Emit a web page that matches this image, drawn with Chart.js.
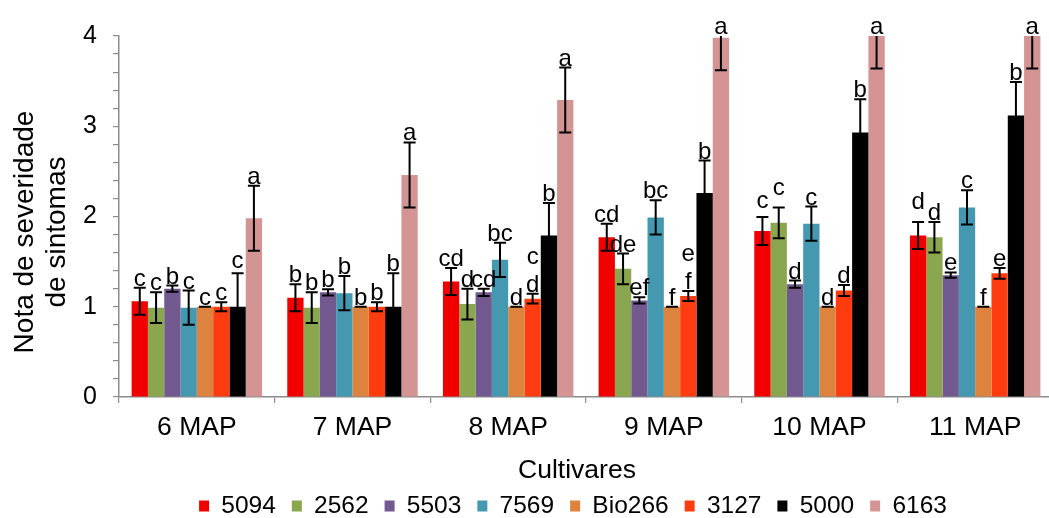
<!DOCTYPE html>
<html>
<head>
<meta charset="utf-8">
<script src="https://cdn.jsdelivr.net/npm/chart.js@4.4.0/dist/chart.umd.min.js"></script>
<style>
html,body{margin:0;padding:0;background:#fff;overflow:hidden;width:1049px;height:518px;}
#wrap{position:relative;width:1056px;height:518px;}
</style>
</head>
<body>
<div id="wrap"><canvas id="c" width="1056" height="518"></canvas></div>
<script>
// ---- data ----
const categories = ['6 MAP', '7 MAP', '8 MAP', '9 MAP', '10 MAP', '11 MAP'];
const cultivars = ['5094', '2562', '5503', '7569', 'Bio266', '3127', '5000', '6163'];

const mean5094   = [1.06, 1.10, 1.28, 1.77, 1.84, 1.79];
const mean2562   = [0.99, 0.99, 1.03, 1.42, 1.93, 1.77];
const mean5503   = [1.20, 1.16, 1.16, 1.07, 1.25, 1.35];
const mean7569   = [0.99, 1.15, 1.52, 1.99, 1.92, 2.10];
const meanBio266 = [1.00, 1.00, 1.00, 1.00, 1.00, 1.00];
const mean3127   = [1.00, 1.00, 1.09, 1.12, 1.18, 1.37];
const mean5000   = [1.00, 1.00, 1.79, 2.26, 2.93, 3.12];
const mean6163   = [1.98, 2.46, 3.29, 3.98, 4.00, 4.00];

const err5094   = [0.15, 0.15, 0.15, 0.15, 0.155, 0.15];
const err2562   = [0.17, 0.17, 0.17, 0.17, 0.17, 0.17];
const err5503   = [0.035, 0.035, 0.04, 0.035, 0.04, 0.03];
const err7569   = [0.19, 0.19, 0.19, 0.19, 0.19, 0.19];
const errBio266 = [0, 0, 0, 0, 0, 0];
const err3127   = [0.05, 0.05, 0.055, 0.055, 0.06, 0.06];
const err5000   = [0.37, 0.37, 0.36, 0.36, 0.37, 0.37];
const err6163   = [0.36, 0.36, 0.36, 0.36, 0.36, 0.36];

const let5094   = ['c', 'b', 'cd', 'cd', 'c', 'd'];
const let2562   = ['c', 'b', 'd', 'de', 'c', 'd'];
const let5503   = ['b', 'b', 'cd', 'ef', 'd', 'e'];
const let7569   = ['c', 'b', 'bc', 'bc', 'c', 'c'];
const letBio266 = ['c', 'b', 'd', 'f', 'd', 'f'];
const let3127   = ['c', 'b', 'c\nd', 'e\nf', 'd', 'e'];
const let5000   = ['c', 'b', 'b', 'b', 'b', 'b'];
const let6163   = ['a', 'a', 'a', 'a', 'a', 'a'];

const yTickValues = [0, 1, 2, 3, 4];
const xTitle = 'Cultivares';
const yTitle = ['Nota de severidade', 'de sintomas'];

// ---- styling ----
const colors = ['#F20000', '#8AA64F', '#725A91', '#4499B0', '#DD833E', '#FF3C10', '#000000', '#D49494'];
const means = [mean5094, mean2562, mean5503, mean7569, meanBio266, mean3127, mean5000, mean6163];
const errs = [err5094, err2562, err5503, err7569, errBio266, err3127, err5000, err6163];
const letters = [let5094, let2562, let5503, let7569, letBio266, let3127, let5000, let6163];
// extra upward shifts (px) for a few letter labels, keyed "dataset,index"
const letterNudge = {'0,4': 7, '1,4': 10, '0,5': 11, '6,0': 3};

const FONT = '"Liberation Sans", Arial, sans-serif';
const AXIS_GRAY = '#8c8c8c';
Chart.defaults.font.family = FONT;
Chart.defaults.color = '#000';

const datasets = cultivars.map((name, i) => ({
  label: name,
  data: means[i],
  backgroundColor: colors[i],
  borderWidth: 0,
  categoryPercentage: 0.838,
  barPercentage: 1.0
}));

const plotArea = {top: 36, bottom: 397, left: 119};
const LEG_PAD = 16, LEG_FONT = 24.5;

const customPlugin = {
  id: 'custom',
  afterLayout(chart) {
    const lg = chart.legend;
    if (!lg) return;
    const cx = 573, w = 1000;
    const itemH = LEG_FONT;
    const h = lg.height;
    lg.left = cx - w / 2; lg.right = cx + w / 2;
    lg.top = 506 - LEG_PAD - itemH / 2;
    lg.bottom = lg.top + h + 20;
  },
  afterDatasetsDraw(chart) {
    const ctx = chart.ctx;
    const ys = chart.scales.y;
    const ca = chart.chartArea;
    ctx.save();
    ctx.beginPath();
    ctx.rect(ca.left - 20, ca.top, ca.right - ca.left + 40, ca.bottom - ca.top + 5);
    ctx.clip();
    ctx.strokeStyle = '#000';
    ctx.lineWidth = 2;
    chart.data.datasets.forEach((ds, i) => {
      const meta = chart.getDatasetMeta(i);
      meta.data.forEach((bar, j) => {
        const v = ds.data[j], e = errs[i][j];
        const yt = ys.getPixelForValue(v + e);
        const yb = ys.getPixelForValue(Math.max(v - e, 0));
        const x = bar.x, hw = 6;
        ctx.beginPath();
        ctx.moveTo(x, yt); ctx.lineTo(x, yb);
        ctx.moveTo(x - hw, yt); ctx.lineTo(x + hw, yt);
        ctx.moveTo(x - hw, yb); ctx.lineTo(x + hw, yb);
        ctx.stroke();
      });
    });
    ctx.restore();

    // letters
    ctx.save();
    ctx.fillStyle = '#000';
    ctx.font = '24px ' + FONT;
    ctx.textAlign = 'center';
    ctx.textBaseline = 'alphabetic';
    chart.data.datasets.forEach((ds, i) => {
      const meta = chart.getDatasetMeta(i);
      meta.data.forEach((bar, j) => {
        const v = ds.data[j], e = errs[i][j];
        const yt = Math.max(ys.getPixelForValue(v + e), ca.top);
        const nudge = letterNudge[i + ',' + j] || 0;
        const lines = letters[i][j].split('\n');
        let y = yt - 2 - nudge;
        for (let k = lines.length - 1; k >= 0; k--) {
          ctx.fillText(lines[k], bar.x, y);
          y -= 28;
        }
      });
    });
    ctx.restore();
  },
  afterDraw(chart) {
    const ctx = chart.ctx;
    ctx.save();
    ctx.fillStyle = '#000';
    ctx.textAlign = 'center';
    ctx.textBaseline = 'alphabetic';
    ctx.font = '26.5px ' + FONT;
    ctx.fillText(xTitle, 577, 478);
    ctx.font = '28px ' + FONT;
    const baseX = [33, 65];
    yTitle.forEach((t, k) => {
      ctx.save();
      ctx.translate(baseX[k], 232);
      ctx.rotate(-Math.PI / 2);
      ctx.fillText(t, 0, 0);
      ctx.restore();
    });
    ctx.restore();
  }
};

new Chart(document.getElementById('c'), {
  type: 'bar',
  data: { labels: categories, datasets: datasets },
  plugins: [customPlugin],
  options: {
    responsive: false,
    animation: false,
    events: [],
    layout: { padding: { left: 0, top: plotArea.top, right: 3, bottom: 0 } },
    plugins: {
      legend: {
        display: true,
        position: 'bottom',
        labels: {
          boxWidth: 10,
          boxHeight: 11,
          padding: LEG_PAD,
          color: '#000',
          font: { size: LEG_FONT, family: FONT }
        }
      },
      tooltip: { enabled: false },
      title: { display: false }
    },
    scales: {
      x: {
        afterFit(scale) {
          const lgH = scale.chart.legend ? scale.chart.legend.height : 0;
          scale.height = 518 - plotArea.bottom - lgH;
        },
        grid: {
          offset: true,
          drawOnChartArea: false,
          drawTicks: true,
          tickLength: 6,
          color: AXIS_GRAY,
          lineWidth: 1.2
        },
        border: { display: true, color: AXIS_GRAY, width: 1.5 },
        ticks: {
          color: '#000',
          padding: 9,
          font: { size: 26.5, family: FONT },
          maxRotation: 0,
          autoSkip: false
        }
      },
      y: {
        min: 0,
        max: 4,
        afterFit(scale) { scale.width = plotArea.left; },
        grid: {
          drawOnChartArea: false,
          drawTicks: true,
          tickLength: 6,
          color: AXIS_GRAY,
          lineWidth: 1.2
        },
        border: { display: true, color: AXIS_GRAY, width: 1.5 },
        ticks: {
          stepSize: 0.2,
          autoSkip: false,
          padding: 16,
          color: '#000',
          font: { size: 25, family: FONT },
          callback: (v) => {
            const r = Math.round(v);
            return (Math.abs(v - r) < 1e-6 && yTickValues.includes(r)) ? String(r) : '';
          }
        }
      }
    }
  }
});
</script>
</body>
</html>
